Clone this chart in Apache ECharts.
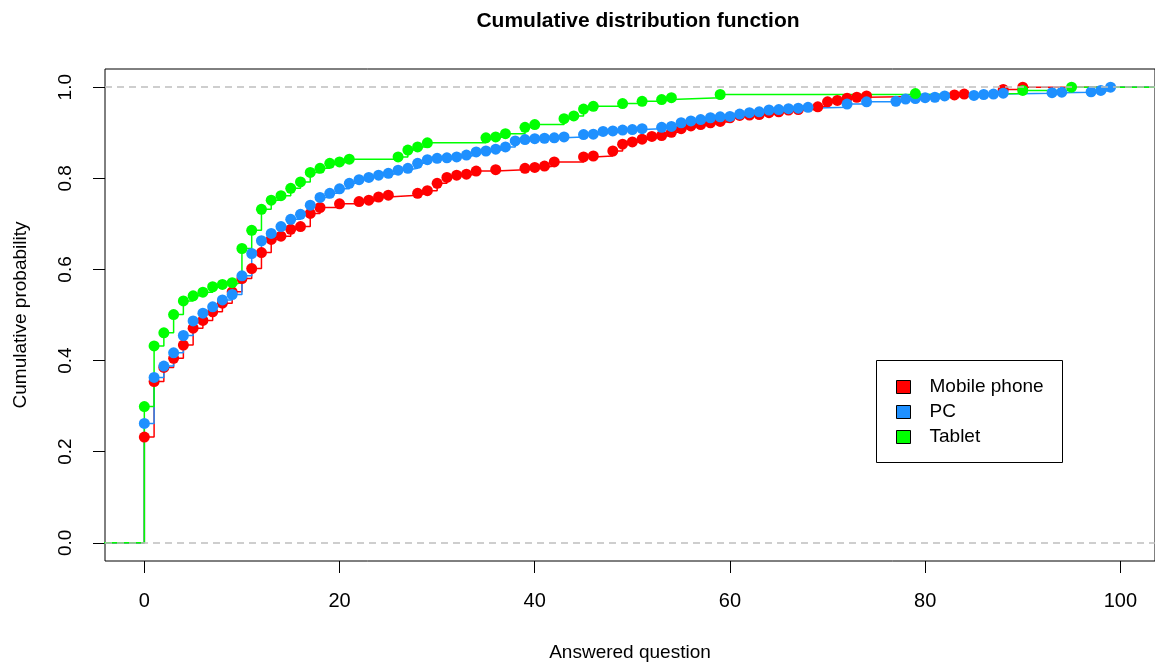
<!DOCTYPE html>
<html>
<head>
<meta charset="utf-8">
<script src="https://cdn.jsdelivr.net/npm/echarts@6/dist/echarts.min.js"></script>
<style>
html,body{margin:0;padding:0;background:#fff;}
#chart{width:1155px;height:666px;}
</style>
</head>
<body>
<div id="chart"></div>
<script>
// ---- Data ----
const seriesNames = ['Mobile phone', 'PC', 'Tablet'];
const seriesColors = ['#FF0000', '#1E90FF', '#00FF00'];

const mobileX = [0,1,2,3,4,5,6,7,8,9,10,11,12,13,14,15,16,17,18,20,22,23,24,25,28,29,30,31,32,33,34,36,39,40,41,42,45,46,48,49,50,51,52,53,54,55,56,57,58,59,60,61,62,63,64,65,66,67,69,70,71,72,73,74,83,84,88,90];
const mobileY = [0.232,0.354,0.385,0.405,0.434,0.471,0.488,0.507,0.526,0.551,0.580,0.602,0.637,0.666,0.673,0.688,0.694,0.723,0.736,0.744,0.749,0.752,0.759,0.763,0.767,0.773,0.789,0.802,0.807,0.809,0.816,0.819,0.822,0.824,0.827,0.836,0.847,0.849,0.860,0.875,0.880,0.886,0.892,0.894,0.901,0.909,0.915,0.918,0.922,0.925,0.933,0.938,0.939,0.940,0.944,0.946,0.950,0.951,0.957,0.968,0.971,0.976,0.978,0.981,0.983,0.985,0.995,1.000];

const pcX = [0,1,2,3,4,5,6,7,8,9,10,11,12,13,14,15,16,17,18,19,20,21,22,23,24,25,26,27,28,29,30,31,32,33,34,35,36,37,38,39,40,41,42,43,45,46,47,48,49,50,51,53,54,55,56,57,58,59,60,61,62,63,64,65,66,67,68,72,74,77,78,79,80,81,82,85,86,87,88,93,94,97,98,99];
const pcY = [0.262,0.363,0.388,0.417,0.455,0.487,0.504,0.518,0.533,0.545,0.586,0.635,0.663,0.679,0.694,0.710,0.721,0.741,0.758,0.767,0.777,0.789,0.797,0.802,0.807,0.811,0.818,0.822,0.833,0.841,0.844,0.845,0.847,0.851,0.858,0.860,0.864,0.869,0.882,0.885,0.887,0.888,0.889,0.891,0.896,0.897,0.903,0.904,0.906,0.907,0.909,0.912,0.914,0.922,0.926,0.929,0.933,0.935,0.936,0.941,0.944,0.946,0.950,0.951,0.953,0.954,0.956,0.963,0.968,0.969,0.974,0.975,0.977,0.978,0.981,0.982,0.984,0.985,0.987,0.988,0.989,0.990,0.993,1.000];

const tabletX = [0,1,2,3,4,5,6,7,8,9,10,11,12,13,14,15,16,17,18,19,20,21,26,27,28,29,35,36,37,39,40,43,44,45,46,49,51,53,54,59,79,90,95];
const tabletY = [0.299,0.432,0.461,0.501,0.531,0.542,0.550,0.562,0.567,0.571,0.646,0.686,0.732,0.752,0.762,0.778,0.792,0.813,0.822,0.833,0.836,0.842,0.847,0.862,0.869,0.878,0.889,0.891,0.898,0.912,0.918,0.931,0.937,0.952,0.958,0.964,0.969,0.973,0.977,0.984,0.986,0.993,1.000];

const xTicks = [0, 20, 40, 60, 80, 100];
const yTicks = [0, 0.2, 0.4, 0.6, 0.8, 1.0];
const refLevels = [0, 1];
const xLimits = [-4.03, 103.55];
const yLimits = [-0.04, 1.04];

// ---- Build series ----
const xs = [mobileX, pcX, tabletX];
const ys = [mobileY, pcY, tabletY];
const FONT = "'Liberation Sans', Arial, sans-serif";

function buildData(xArr, yArr) {
  const d = [{ value: [xLimits[0] - 1, 0], symbol: 'none' }];
  for (let i = 0; i < xArr.length; i++) d.push([xArr[i], yArr[i]]);
  d.push({ value: [xLimits[1] + 1, yArr[yArr.length - 1]], symbol: 'none' });
  return d;
}

const series = [{
  type: 'line',
  data: [],
  silent: true,
  markLine: {
    silent: true,
    symbol: 'none',
    label: { show: false },
    lineStyle: { color: '#BEBEBE', type: [7, 5], width: 1.5 },
    data: refLevels.map(v => ({ yAxis: v }))
  }
}];
for (let k = 0; k < 3; k++) {
  series.push({
    name: seriesNames[k],
    type: 'line',
    step: 'end',
    data: buildData(xs[k], ys[k]),
    symbol: 'circle',
    symbolSize: 11,
    showAllSymbol: true,
    clip: true,
    color: seriesColors[k],
    itemStyle: { color: seriesColors[k] },
    lineStyle: { color: seriesColors[k], width: 1.5 },
    emphasis: { disabled: true }
  });
}

const chart = echarts.init(document.getElementById('chart'));
chart.setOption({
  animation: false,
  backgroundColor: '#fff',
  title: {
    text: 'Cumulative distribution function',
    left: 633, top: 6, textAlign: 'center',
    textStyle: { fontFamily: FONT, fontWeight: 'bold', fontSize: 21, color: '#000' }
  },
  grid: {
    left: 105, right: 0, top: 69, bottom: 105,
    outerBoundsMode: 'none',
    containLabel: false,
    show: true, borderColor: '#000', borderWidth: 1, backgroundColor: 'transparent'
  },
  legend: {
    data: seriesNames,
    orient: 'vertical',
    left: 896, top: 377,
    padding: 0,
    icon: 'rect',
    itemWidth: 14, itemHeight: 13, itemGap: 5,
    itemStyle: { borderColor: '#000', borderWidth: 1 },
    textStyle: { fontFamily: FONT, fontSize: 19, color: '#000', lineHeight: 20, padding: [0, 0, 0, 14] },
    selectedMode: false
  },
  graphic: [{
    type: 'rect',
    shape: { x: 876.5, y: 360.5, width: 186, height: 102 },
    style: { fill: 'transparent', stroke: '#000', lineWidth: 1 },
    z: 10
  }],
  xAxis: {
    type: 'value',
    min: xLimits[0], max: xLimits[1],
    name: 'Answered question',
    nameLocation: 'middle', nameGap: 82,
    nameTextStyle: { fontFamily: FONT, fontSize: 19, color: '#000' },
    axisLine: { show: false, onZero: false },
    splitLine: { show: false },
    axisTick: { show: true, length: 12, customValues: xTicks, lineStyle: { color: '#000' } },
    axisLabel: { customValues: xTicks, margin: 30, fontFamily: FONT, fontSize: 20, color: '#000' }
  },
  yAxis: {
    type: 'value',
    min: yLimits[0], max: yLimits[1],
    name: 'Cumulative probability',
    nameLocation: 'middle', nameGap: 75,
    nameTextStyle: { fontFamily: FONT, fontSize: 19, color: '#000' },
    axisLine: { show: false, onZero: false },
    splitLine: { show: false },
    axisTick: { show: true, length: 12, customValues: yTicks, lineStyle: { color: '#000' } },
    axisLabel: {
      customValues: yTicks, rotate: 90, margin: 30,
      fontFamily: FONT, fontSize: 19, color: '#000',
      formatter: v => v.toFixed(1)
    }
  },
  series: series
});
</script>
</body>
</html>
